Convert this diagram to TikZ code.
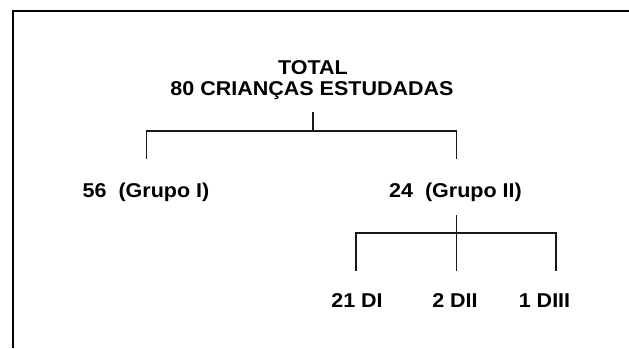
\documentclass[tikz,border=0pt]{standalone}
\usepackage{fontspec}
\setmainfont{Liberation Sans}[FakeStretch=1.075]
\tikzset{
  lbl/.style={font=\fontsize{20pt}{22pt}\selectfont\bfseries, inner sep=0pt, anchor=base},
  branch/.style={line width=1.1pt, color=black!90},
}
\begin{document}
\begin{tikzpicture}[scale=1.000000,x=1pt,y=1pt]
\useasboundingbox (0.000000,0.000000) rectangle (629.000000,-348.000000);
% Drawing frame (open at right and bottom)
\draw[line width=2pt] (629.000000,-11.000000) -- (13.000000,-11.000000) -- (13.000000,-348.000000);
% Drawing labels
\node[lbl] (total) at (313.000000,-74.000000) {TOTAL};
\node[lbl] (criancas) at (312.000000,-95.000000) {80 CRIANÇAS ESTUDADAS};
\node[lbl] (grupoI) at (146.000000,-197.000000) {56~~(Grupo I)};
\node[lbl] (grupoII) at (455.500000,-197.000000) {24~~(Grupo II)};
\node[lbl] (dI) at (357.000000,-307.000000) {21 DI};
\node[lbl] (dII) at (455.000000,-307.000000) {2 DII};
\node[lbl] (dIII) at (544.500000,-307.000000) {1 DIII};
% Done with labels; drawing branch points
\coordinate (stemA) at (313.000000,-112.000000);
\coordinate (barA) at (313.000000,-131.000000);
\coordinate (dropI) at (146.700000,-159.000000);
\coordinate (dropII) at (456.700000,-159.000000);
\coordinate (stemB) at (456.700000,-215.000000);
\coordinate (barB) at (456.700000,-233.000000);
\coordinate (dropDI) at (356.000000,-271.000000);
\coordinate (dropDII) at (456.700000,-271.000000);
\coordinate (dropDIII) at (556.000000,-271.000000);
% Branch 1: total -> grupo I, grupo II
\draw[branch] (stemA) -- (barA);
\draw[branch] (dropI) |- (barA) -| (dropII);
% Branch 2: grupo II -> DI, DII, DIII
\draw[branch] (stemB) -- (dropDII);
\draw[branch] (dropDI) |- (barB) -| (dropDIII);
% Done with branches
\end{tikzpicture}
\end{document}
